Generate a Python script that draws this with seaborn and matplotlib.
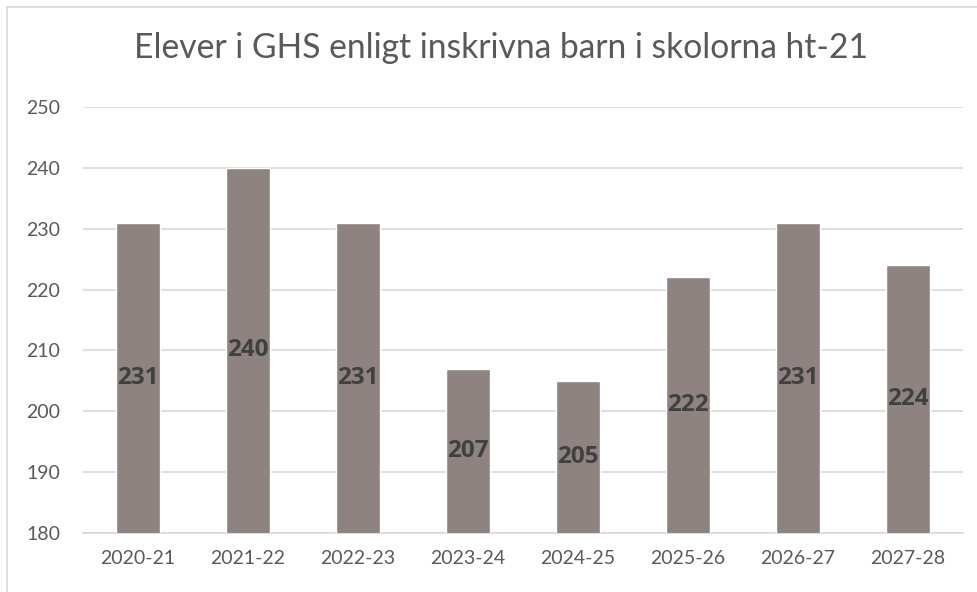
import matplotlib
matplotlib.use("Agg")
import matplotlib.pyplot as plt
import seaborn as sns
import pandas as pd
from matplotlib.lines import Line2D

categories = ["2020-21", "2021-22", "2022-23", "2023-24", "2024-25", "2025-26", "2026-27", "2027-28"]
values = [231, 240, 231, 207, 205, 222, 231, 224]
title = "Elever i GHS enligt inskrivna barn i skolorna ht-21"
y_ticks = [180, 190, 200, 210, 220, 230, 240, 250]

sns.set_theme(style="white")
plt.rcParams['font.family'] = ['Lato', 'DejaVu Sans']

W, H = 978, 592
fig = plt.figure(figsize=(W / 100, H / 100), dpi=100)
ax = fig.add_axes([83 / W, (H - 533) / H, 880 / W, 426 / H])

df = pd.DataFrame({"cat": categories, "val": values})
sns.barplot(data=df, x="cat", y="val", color="#8E8381", width=0.4,
            saturation=1, ax=ax, zorder=3)

ax.set_ylim(180, 250)
ax.set_xlim(-0.5, len(categories) - 0.5)
ax.set_yticks(y_ticks)
ax.yaxis.grid(True, color="#d9d9d9", linewidth=1.2, zorder=0)
ax.set_axisbelow(True)
for s in ["top", "right", "left"]:
    ax.spines[s].set_visible(False)
ax.spines["bottom"].set_color("#d9d9d9")
ax.spines["bottom"].set_linewidth(1.2)
ax.set_xlabel("")
ax.set_ylabel("")
ax.tick_params(axis="both", length=0, labelsize=14, labelcolor="#595959")
ax.tick_params(axis="y", pad=16.5)
ax.tick_params(axis="x", pad=12)

for i, v in enumerate(values):
    ax.text(i, (180 + v) / 2, str(v), ha="center", va="center",
            fontsize=17.5, fontweight="bold", color="#404040", zorder=4,
            family=["Open Sans", "DejaVu Sans"])

fig.text(501 / W, 1 - 48 / H, title, ha="center", va="center",
         fontsize=24.2, color="#595959")

# outer chart frame
fig.add_artist(Line2D([7 / W, 1], [1 - 7 / H, 1 - 7 / H], color="#d9d9d9", linewidth=1.2, transform=fig.transFigure))
fig.add_artist(Line2D([7 / W, 7 / W], [0, 1 - 7 / H], color="#d9d9d9", linewidth=1.2, transform=fig.transFigure))

fig.savefig("out.png", dpi=100, facecolor="white")
